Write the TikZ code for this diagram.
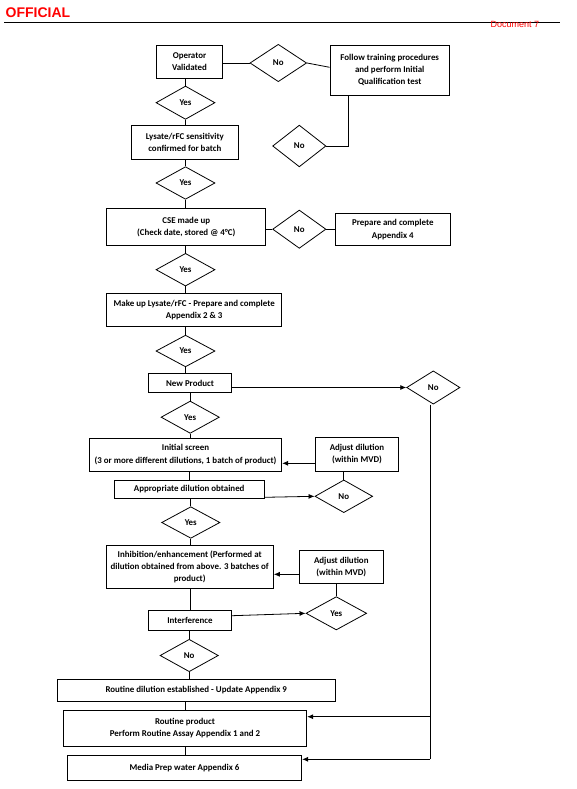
\documentclass[tikz,border=0pt]{standalone}
\usepackage{fontspec}
\setmainfont{Carlito}
\newfontfamily\arialf{Liberation Sans}
\usetikzlibrary{shapes.geometric,arrows.meta}
\definecolor{offred}{RGB}{255,0,0}
\tikzset{
  box/.style={draw=black,line width=0.9pt,rectangle,inner sep=0pt,align=center,
    font=\fontsize{8.9}{12.3}\selectfont\bfseries},
  dia/.style={draw=black,line width=0.8pt,diamond,inner sep=0pt,align=center,
    font=\fontsize{8.9}{12.3}\selectfont\bfseries},
  conn/.style={draw=black,line width=0.8pt},
  arr/.style={conn,-{Latex[length=6pt,width=5pt]}}
}
\begin{document}
\begin{tikzpicture}[x=1pt,y=-1pt]
\useasboundingbox (0,0) rectangle (576,789);
% header
\coordinate (hl1) at (4,22.3);
\coordinate (hl2) at (560,22.3);
\draw[line width=1pt] (hl1) -- (hl2);
\node[anchor=west,inner sep=0pt,text=offred,font=\arialf\bfseries\fontsize{14}{16}\selectfont] (official) at (5.5,12.5) {OFFICIAL};
\node[anchor=west,inner sep=0pt,text=offred,font=\arialf\fontsize{9}{10}\selectfont] (doc) at (490.5,24) {Document 7};
% nodes
\node[box,minimum width=65.6pt,minimum height=33pt] (op) at (189.5,61.8) {Operator\\Validated};
\node[dia,minimum width=56.7pt,minimum height=37.4pt] (no1) at (278.3,63) {No};
\node[box,minimum width=119.3pt,minimum height=50pt] (follow) at (389.7,70) {Follow training procedures\\and perform Initial\\Qualification test};
\node[dia,minimum width=59pt,minimum height=33.3pt] (yes1) at (185.5,102.7) {Yes};
\node[box,minimum width=107pt,minimum height=33.6pt] (lys) at (184.8,142.5) {Lysate/rFC sensitivity\\confirmed for batch};
\node[dia,minimum width=53.3pt,minimum height=41.7pt] (no2) at (299.3,146) {No};
\node[dia,minimum width=59pt,minimum height=32.6pt] (yes2) at (185.5,183) {Yes};
\node[box,minimum width=159pt,minimum height=37.4pt] (cse) at (186.2,227) {CSE made up\\(Check date, stored @ 4°C)};
\node[dia,minimum width=53.3pt,minimum height=38.3pt] (no3) at (299.3,229.2) {No};
\node[box,minimum width=114.3pt,minimum height=32.4pt] (prep) at (392.8,229.5) {Prepare and complete\\Appendix 4};
\node[dia,minimum width=59pt,minimum height=32.7pt] (yes3) at (185.5,269.7) {Yes};
\node[box,minimum width=175pt,minimum height=33.4pt] (make) at (194.2,310) {Make up Lysate/rFC - Prepare and complete\\Appendix 2 \& 3};
\node[dia,minimum width=59pt,minimum height=31.7pt] (yes4) at (185.5,351) {Yes};
\node[box,minimum width=83.4pt,minimum height=18.6pt] (newp) at (190,383.2) {New Product};
\node[dia,minimum width=53.3pt,minimum height=33.3pt] (no4) at (433.3,387.5) {No};
\node[dia,minimum width=58.3pt,minimum height=32.3pt] (yes5) at (190.2,417.2) {Yes};
\node[box,minimum width=192.4pt,minimum height=32.7pt] (init) at (185.5,454.7) {Initial screen\\(3 or more different dilutions, 1 batch of product)};
\node[box,minimum width=82.6pt,minimum height=33.7pt] (adj1) at (357,454.2) {Adjust dilution\\(within MVD)};
\node[box,minimum width=149.7pt,minimum height=17.6pt] (appr) at (189.2,489.5) {Appropriate dilution obtained};
\node[dia,minimum width=57.7pt,minimum height=32.7pt] (no5) at (343.8,496.3) {No};
\node[dia,minimum width=58.3pt,minimum height=31.6pt] (yes6) at (190.8,522.5) {Yes};
\node[box,minimum width=167.3pt,minimum height=43.3pt] (inh) at (189.7,566.7) {Inhibition/enhancement (Performed at\\dilution obtained from above. 3 batches of\\product)};
\node[box,minimum width=84pt,minimum height=33.3pt] (adj2) at (341.3,566.7) {Adjust dilution\\(within MVD)};
\node[box,minimum width=83.4pt,minimum height=20pt] (interf) at (190,620) {Interference};
\node[dia,minimum width=60.7pt,minimum height=33.3pt] (yes7) at (336.3,613.3) {Yes};
\node[dia,minimum width=58.3pt,minimum height=32.4pt] (no6) at (189.2,655.5) {No};
\node[box,minimum width=277.7pt,minimum height=22.4pt] (rdil) at (196.2,690.5) {Routine dilution established - Update Appendix 9};
\node[box,minimum width=243.4pt,minimum height=36.7pt] (rprod) at (185,728.3) {Routine product\\Perform Routine Assay Appendix 1 and 2};
\node[box,minimum width=234.4pt,minimum height=24.3pt] (media) at (184.5,767.8) {Media Prep water Appendix 6};
% helper coordinates
\coordinate (h6) at (0,67.3);
\coordinate (v1) at (348.7,0);
\coordinate (h1) at (0,463.3);
\coordinate (h2) at (0,497.3);
\coordinate (h3) at (0,574.3);
\coordinate (h4) at (0,615.7);
\coordinate (rp) at (430,716.7);
\coordinate (rb) at (430,759.3);
% connectors
\draw[conn] (op.east |- no1.west) -- (no1.west);
\draw[conn] (no1.east) -- (follow.west |- h6);
\draw[conn] (follow.south -| v1) -- (v1 |- no2.east) -- (no2.east);
\draw[conn] (op.south -| yes1.north) -- (yes1.north);
\draw[conn] (yes1.south) -- (yes1.south |- lys.north);
\draw[conn] (lys.south -| yes2.north) -- (yes2.north);
\draw[conn] (yes2.south) -- (yes2.south |- cse.north);
\draw[conn] (cse.east |- no3.west) -- (no3.west);
\draw[conn] (no3.east) -- (prep.west |- no3.east);
\draw[conn] (cse.south -| yes3.north) -- (yes3.north);
\draw[conn] (yes3.south) -- (yes3.south |- make.north);
\draw[conn] (make.south -| yes4.north) -- (yes4.north);
\draw[conn] (yes4.south) -- (yes4.south |- newp.north);
\draw[arr] (newp.east |- no4.west) -- (no4.west);
\draw[conn] (newp.south -| yes5.north) -- (yes5.north);
\draw[conn] (yes5.south) -- (yes5.south |- init.north);
\draw[arr] (adj1.west |- h1) -- (init.east |- h1);
\draw[conn] (init.south -| appr.north) -- (appr.north);
\draw[conn] (adj1.south -| no5.north) -- (no5.north);
\draw[arr] (appr.east |- h2) -- (no5.west);
\draw[conn] (appr.south -| yes6.north) -- (yes6.north);
\draw[conn] (yes6.south) -- (yes6.south |- inh.north);
\draw[arr] (adj2.west |- h3) -- (inh.east |- h3);
\draw[conn] (adj2.south -| yes7.north) -- (yes7.north);
\draw[conn] (inh.south -| interf.north) -- (interf.north);
\draw[arr] (interf.east |- h4) -- (yes7.west);
\draw[conn] (interf.south -| no6.north) -- (no6.north);
\draw[conn] (no6.south) -- (no6.south |- rdil.north);
\draw[conn] (rdil.south -| rprod.north) -- (rprod.north);
\draw[conn] (rprod.south) -- (rprod.south |- media.north);
\draw[conn] (no4.south -| rb) -- (rb);
\draw[arr] (rb) -- (rb -| media.east);
\draw[arr] (rp) -- (rp -| rprod.east);
\end{tikzpicture}
\end{document}
